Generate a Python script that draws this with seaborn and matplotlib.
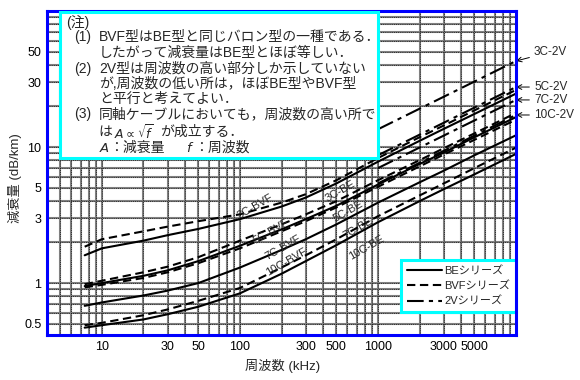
import matplotlib
matplotlib.use("Agg")
import matplotlib.pyplot as plt
import seaborn as sns
import pandas as pd
from matplotlib.patches import Rectangle
from matplotlib.lines import Line2D
from matplotlib.ticker import FixedLocator, NullFormatter

# ---------------- data (kHz, dB/km) ----------------
freq = [7.5, 10, 20, 30, 50, 100, 200, 300, 500, 1000, 2000, 3000, 5000, 10000]
bvf_3c = [1.85, 2.1, 2.4, 2.6, 2.85, 3.2, 3.9, 4.5, 5.7, 8.3, 11.8, 14.4, 18.6, 26.3]
be_3c = [1.6, 1.8, 2.05, 2.25, 2.5, 2.95, 3.65, 4.25, 5.4, 7.8, 11.1, 13.6, 17.5, 24.7]
bvf_5c = [0.98, 1.04, 1.2, 1.32, 1.55, 2.05, 2.7, 3.2, 4.0, 5.7, 8.0, 9.8, 12.6, 17.8]
be_5c = [0.95, 1.0, 1.13, 1.24, 1.45, 1.88, 2.48, 2.95, 3.7, 5.3, 7.5, 9.1, 11.8, 16.6]
bvf_7c = [0.93, 0.97, 1.09, 1.2, 1.4, 1.8, 2.4, 2.85, 3.6, 5.1, 7.2, 8.8, 11.3, 15.9]
be_7c = [0.68, 0.72, 0.81, 0.88, 1.0, 1.3, 1.75, 2.1, 2.7, 3.9, 5.5, 6.7, 8.7, 12.2]
bvf_10c = [0.49, 0.51, 0.58, 0.64, 0.74, 0.92, 1.3, 1.6, 2.1, 3.1, 4.4, 5.4, 7.0, 9.9]
be_10c = [0.47, 0.49, 0.54, 0.59, 0.67, 0.84, 1.17, 1.45, 1.9, 2.8, 4.0, 4.9, 6.3, 8.9]

freq_2v = [1000, 10000]
v2_3c = [13.5, 42.9]
v2_5c = [8.7, 27.6]
v2_7c = [7.0, 22.2]
v2_10c = [5.4, 17.2]

x_ticks = [10, 30, 50, 100, 300, 500, 1000, 3000, 5000]
x_labels = ["10", "30", "50", "100", "300", "500", "1000", "3000", "5000"]
y_ticks = [0.5, 1, 3, 5, 10, 30, 50]
y_labels = ["0.5", "1", "3", "5", "10", "30", "50"]

curve_labels = ["3C-BVF", "5C-BVF", "7C-BVF", "10C-BVF", "3C-BE", "5C-BE", "7C-BE", "10C-BE"]
v2_labels = ["3C-2V", "5C-2V", "7C-2V", "10C-2V"]
legend_labels = ["BEシリーズ", "BVFシリーズ", "2Vシリーズ"]

note_lines = [
    "(注)",
    "(1)", "BVF型はBE型と同じバロン型の一種である．",
    "したがって減衰量はBE型とほぼ等しい．",
    "(2)", "2V型は周波数の高い部分しか示していない",
    "が,周波数の低い所は，ほぼBE型やBVF型",
    "と平行と考えてよい．",
    "(3)", "同軸ケーブルにおいても，周波数の高い所で",
]

# ---------------- style ----------------
sns.set_theme(style="white")
plt.rcParams["font.family"] = ["Liberation Sans", "Noto Sans CJK JP", "DejaVu Sans"]
plt.rcParams["mathtext.fontset"] = "dejavusans"

W, H = 580, 380
fig = plt.figure(figsize=(W / 100, H / 100), dpi=100)
fig.patch.set_facecolor("white")
L, R, T, B = 47, 516, 11, 335
ax = fig.add_axes([L / W, 1 - B / H, (R - L) / W, (B - T) / H])
ax.set_facecolor("white")
ax.set_xscale("log")
ax.set_yscale("log")
ax.set_xlim(4, 10000)
ax.set_ylim(0.415, 100)

# grid on every 1..9 of each decade
xgrid = [m * 10 ** e for e in range(0, 4) for m in range(1, 10) if 4 <= m * 10 ** e <= 10000]
ygrid = [m * 10 ** e for e in range(-1, 2) for m in range(1, 10) if 0.42 <= m * 10 ** e <= 100]
ax.xaxis.set_minor_locator(FixedLocator(xgrid))
ax.yaxis.set_minor_locator(FixedLocator(ygrid))
ax.xaxis.set_minor_formatter(NullFormatter())
ax.yaxis.set_minor_formatter(NullFormatter())
ax.set_xticks(x_ticks)
ax.set_xticklabels(x_labels)
ax.set_yticks(y_ticks)
ax.set_yticklabels(y_labels)
ax.tick_params(which="both", length=0, labelsize=9, colors="black")
ax.tick_params(axis="x", pad=4)
ax.tick_params(axis="y", pad=4)
ax.grid(which="both", color="#808080", lw=1.5, zorder=0)
for gx in xgrid:
    ax.axvline(gx, color="black", lw=0.55, ls=(0, (1, 1.8)), zorder=0.6)
for gy in ygrid:
    ax.axhline(gy, color="black", lw=0.55, ls=(0, (1, 1.8)), zorder=0.6)
ax.set_axisbelow(True)

for s in ax.spines.values():
    s.set_color("#0000ff")
    s.set_linewidth(2.2)
    s.set_zorder(20)

solid = "-"
dashed = (0, (4, 2.2))
dashdot = (0, (8, 2.5, 2, 2.5))

series = [
    (bvf_3c, dashed), (be_3c, solid),
    (bvf_5c, dashed), (be_5c, solid),
    (bvf_7c, dashed), (be_7c, solid),
    (bvf_10c, dashed), (be_10c, solid),
]
for vals, ls in series:
    sns.lineplot(x=freq, y=vals, ax=ax, color="black", lw=1.5, linestyle=ls, zorder=3)
for vals in [v2_3c, v2_5c, v2_7c, v2_10c]:
    sns.lineplot(x=freq_2v, y=vals, ax=ax, color="black", lw=1.5, linestyle=dashdot, zorder=3)

ax.set_xlabel("")
ax.set_ylabel("")

# axis titles
fig.text(283 / W, 1 - 366 / H, "周波数 (kHz)", ha="center", va="center", fontsize=9.5)
fig.text(15 / W, 1 - 178 / H, "減衰量 (dB/km)", ha="center", va="center", rotation=90, fontsize=9.5)

# curve labels
lab_pos = [(255, 206), (271, 232), (283, 248), (286, 262),
           (340, 191), (348, 211), (358, 228), (366, 248)]
for t, (px, py) in zip(curve_labels, lab_pos):
    fig.text(px / W, 1 - py / H, t, ha="center", va="center", rotation=30,
             fontsize=8, zorder=15)

# 2V labels with arrows to right edge
v2_ends = [v2_3c[-1], v2_5c[-1], v2_7c[-1], v2_10c[-1]]
v2_lab_y = [52, 87, 100, 115]
for t, yv, ly in zip(v2_labels, v2_ends, v2_lab_y):
    ax.annotate(t, xy=(10000, yv), xycoords="data",
                xytext=(534 / W, 1 - ly / H), textcoords="figure fraction",
                ha="left", va="center", fontsize=8.5,
                arrowprops=dict(arrowstyle="->", lw=0.7, color="black",
                                shrinkA=1, shrinkB=0), annotation_clip=False)

# note box
note = Rectangle((60 / W, 1 - 158 / H), (378 - 60) / W, (158 - 12) / H,
                 transform=fig.transFigure, facecolor="white", edgecolor="#00ffff",
                 lw=2.2, zorder=10)
fig.add_artist(note)
fs = 10
def ft(x, y, s, size=fs, **kw):
    fig.text(x / W, 1 - y / H, s, ha="left", va="center", fontsize=size, zorder=12, **kw)

ft(66, 22, note_lines[0])
ft(74, 37, note_lines[1]); ft(99, 37, note_lines[2])
ft(99, 53, note_lines[3])
ft(74, 69, note_lines[4]); ft(99, 69, note_lines[5])
ft(99, 84, note_lines[6])
ft(99, 99, note_lines[7])
ft(74, 114, note_lines[8]); ft(99, 114, note_lines[9])
ft(98, 132, "は")
ft(114, 133, r"$A\propto\sqrt{f}$", size=9)
ft(160, 132, "が成立する．")
ft(99, 148, r"$A$", size=9.5)
ft(109, 148, "：減衰量")
ft(186, 148, r"$f$", size=9.5)
ft(194, 148, "：周波数")

# legend
handles = [Line2D([], [], color="black", lw=1.5, linestyle=solid),
           Line2D([], [], color="black", lw=1.5, linestyle=dashed),
           Line2D([], [], color="black", lw=1.5, linestyle=dashdot)]
leg = ax.legend(handles, legend_labels, loc="lower right",
                bbox_to_anchor=(1.0, (B - 312) / (B - T)), borderaxespad=0,
                fontsize=8, handlelength=3.2, handletextpad=0.2,
                labelspacing=0.45, borderpad=0.5, fancybox=False, framealpha=1)
leg.get_frame().set_edgecolor("#00ffff")
leg.get_frame().set_linewidth(2.2)
leg.set_zorder(12)

fig.savefig("out.png", dpi=100)
